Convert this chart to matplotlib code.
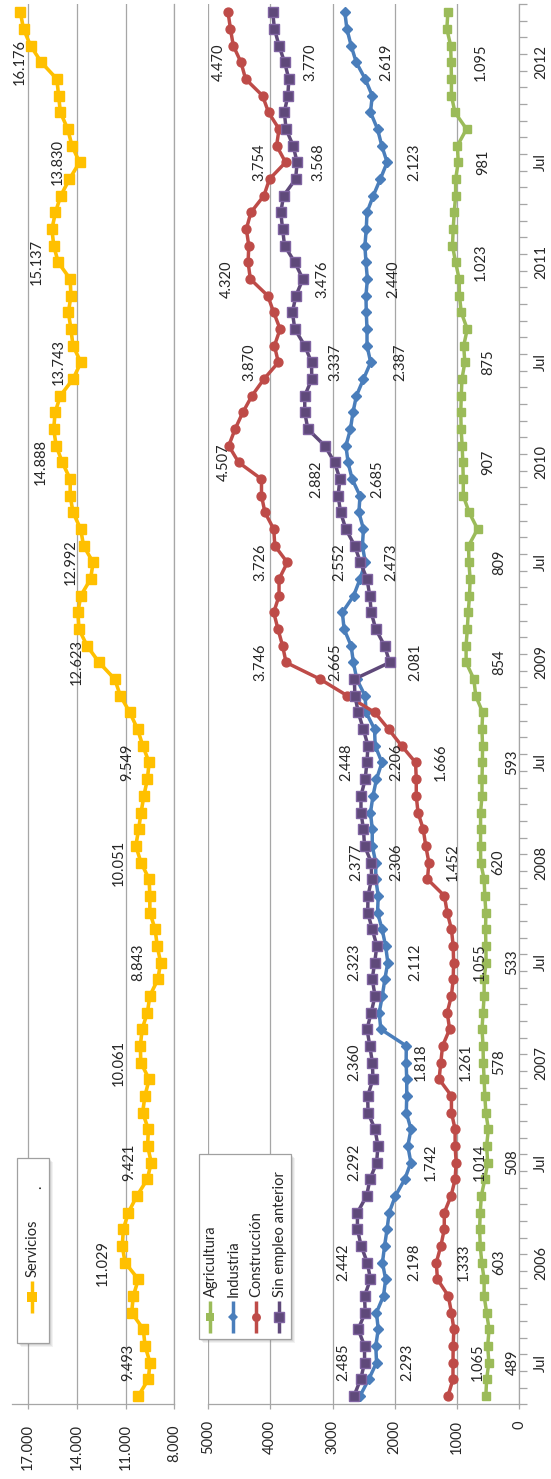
import matplotlib
matplotlib.use("Agg")
import matplotlib.pyplot as plt
from matplotlib.patches import Rectangle
import numpy as np

plt.rcParams['font.family'] = ['Lato', 'DejaVu Sans']

# ---------------- data (monthly, May 2005 .. Apr 2012) ----------------
time_tick_idx = [2, 8, 14, 20, 26, 32, 38, 44, 50, 56, 62, 68, 74, 80]
time_tick_labels = ['Jul', '2006', 'Jul', '2007', 'Jul', '2008', 'Jul',
                    '2009', 'Jul', '2010', 'Jul', '2011', 'Jul', '2012']

servicios = [10212, 9597, 9493, 9800, 9905, 10624, 10520, 10212, 11029, 11196, 11135,
             10827, 10300, 9658, 9421, 9640, 9597, 9947, 9806, 9547, 10061, 10087, 9979, 9655, 9504,
             9008, 8843, 9051, 9180, 9504, 9504, 9547, 10051, 10367, 10194, 10043, 9871, 9655, 9549, 9935,
             10259, 10734, 11317, 11662, 12623, 13367, 13863, 13928, 13755, 13151, 12992, 13583, 13755, 14230, 14402,
             14402, 14888, 15266, 15417, 15330, 15007, 14230, 13743, 14230, 14359, 14510, 14359, 14402, 15137, 15417,
             15525, 15309, 14985, 14446, 13830, 14295, 14554, 15007, 15115, 15223, 16176, 16841, 17273, 17467]

agricultura = [537, 525, 489, 508, 486, 525, 565, 565, 603, 627, 638,
               627, 610, 554, 508, 525, 497, 537, 554, 565, 578, 582, 599, 582, 565,
               565, 533, 537, 542, 537, 554, 565, 620, 622, 622, 622, 599, 599, 593, 590,
               600, 588, 700, 730, 854, 855, 835, 820, 800, 790, 809, 815, 670, 805, 900,
               900, 907, 918, 934, 940, 932, 921, 875, 893, 836, 932, 961, 966, 1023, 1073,
               1062, 1045, 1023, 1023, 981, 994, 848, 1034, 1090, 1090, 1095, 1102, 1164, 1147]

industria = [2559, 2418, 2293, 2305, 2266, 2294, 2181, 2147, 2198, 2164, 2124,
             2090, 1990, 1840, 1742, 1790, 1740, 1815, 1808, 1808, 1818, 1815, 2225, 2250, 2200,
             2160, 2112, 2147, 2204, 2277, 2266, 2305, 2306, 2362, 2362, 2390, 2350, 2294, 2206, 2315,
             2325, 2460, 2478, 2610, 2665, 2701, 2814, 2842, 2661, 2559, 2473, 2520, 2503, 2576, 2559,
             2685, 2750, 2785, 2712, 2672, 2616, 2503, 2387, 2446, 2446, 2458, 2463, 2440, 2463, 2480,
             2458, 2446, 2345, 2232, 2123, 2209, 2277, 2390, 2362, 2475, 2619, 2701, 2769, 2802]

construccion = [1145, 1065, 1065, 1062, 1051, 1090, 1140, 1315, 1333, 1260, 1205,
                1205, 1096, 1031, 1014, 1031, 1031, 1090, 1090, 1288, 1261, 1232, 1119, 1158, 1090,
                1062, 1055, 1062, 1090, 1158, 1203, 1475, 1452, 1503, 1543, 1627, 1655, 1655, 1666, 1890,
                2100, 2320, 2760, 3200, 3746, 3802, 3876, 3944, 3859, 3859, 3726, 3927, 3944, 4085, 4141,
                4141, 4507, 4667, 4565, 4441, 4294, 4102, 3870, 3933, 3842, 3944, 4040, 4320, 4356, 4345,
                4384, 4311, 4102, 4012, 3754, 3898, 3859, 4028, 4124, 4396, 4470, 4594, 4639, 4678]

sin_empleo = [2656, 2548, 2485, 2486, 2588, 2475, 2486, 2390, 2442, 2540, 2600,
              2600, 2453, 2398, 2292, 2270, 2318, 2430, 2435, 2350, 2360, 2401, 2446, 2379, 2317,
              2362, 2323, 2288, 2362, 2435, 2430, 2373, 2377, 2486, 2503, 2543, 2543, 2475, 2448, 2430,
              2505, 2586, 2640, 2650, 2081, 2164, 2305, 2379, 2401, 2446, 2552, 2644, 2785, 2870, 2910,
              2882, 2966, 3124, 3396, 3446, 3446, 3333, 3337, 3446, 3605, 3645, 3588, 3476, 3605, 3770,
              3802, 3831, 3786, 3593, 3568, 3633, 3746, 3774, 3718, 3701, 3770, 3859, 3932, 3961]

# indices of the points that carry a data label
lab_idx_serv = [2, 8, 14, 20, 26, 32, 38, 44, 50, 56, 62, 68, 74, 80]
lab_idx_agri = [2, 8, 14, 20, 26, 32, 38, 44, 50, 56, 62, 68, 74, 80]
lab_idx_ind = [2, 8, 14, 20, 26, 32, 38, 44, 50, 55, 62, 67, 74, 80]
lab_idx_con = [2, 8, 14, 20, 26, 32, 38, 44, 50, 56, 62, 67, 74, 80]
lab_idx_sin = [2, 8, 14, 20, 26, 32, 38, 44, 50, 55, 62, 67, 74, 80]

# ---------------- styling ----------------
# horizontal label offsets (pixels, + = right of the point)
off_serv = [-22] * 14
off_agri = [24, 17, 24, 16, 26, 18, 30, 33, 30, 25, 23, 25, 25, 30]
off_ind = [31, 32, 20, 15, 28, 21, 14, -18, 26, 25, 30, 26, 27, 30]
off_con = [25, 27, 24, 25, 26, 24, 25, -26, -27, -15, -29, -24, -26, -22]
off_sin = [-21, -24, -22, -18, -20, -15, -21, 26, -21, -24, 24, 20, 21, 26]

C_SERV = '#FFC000'
C_AGRI = '#9BBB59'
C_IND = '#4A7EBB'
C_CON = '#BE4B48'
C_SIN = '#5F497A'
C_SIN_E = '#8064A2'
GRID = '#A6A6A6'
TXT = '#262626'
FS = 10.5

W, H, DPI = 551, 1479, 100
fig = plt.figure(figsize=(W / DPI, H / DPI), dpi=DPI)
fig.patch.set_facecolor('white')


def fx(px):
    return px / W


def fy(py):
    return 1 - py / H


Y_TOP, Y_BOT = 4.0, 1404.3
UP_L, UP_R = 11.7, 174.3
LO_L, LO_R = 208.0, 519.3

ax_u = fig.add_axes([fx(UP_L), fy(Y_BOT), fx(UP_R - UP_L), (Y_BOT - Y_TOP) / H])
ax_l = fig.add_axes([fx(LO_L), fy(Y_BOT), fx(LO_R - LO_L), (Y_BOT - Y_TOP) / H])

n = len(servicios)
idx = np.arange(n)


def fmt(v):
    return f"{int(v):,}".replace(',', '.')


def setup_value_axis(ax, lo, hi, ticks, labels, pad):
    ax.set_xlim(hi, lo)
    ax.set_ylim(-0.5, n - 0.5)
    ax.set_xticks(ticks)
    ax.set_xticklabels(labels, rotation=90, fontsize=FS, color=TXT)
    ax.tick_params(axis='x', direction='out', length=3.5, width=0.9, color=GRID, pad=pad)
    ax.grid(axis='x', color=GRID, lw=0.9)
    ax.set_axisbelow(True)
    for s in ['top', 'left']:
        ax.spines[s].set_visible(False)
    for s in ['bottom', 'right']:
        ax.spines[s].set_color(GRID)
        ax.spines[s].set_linewidth(0.9)
    ax.set_facecolor('none')


# upper panel: Servicios
setup_value_axis(ax_u, 8000, 18000, [8000, 11000, 14000, 17000],
                 ['8.000', '11.000', '14.000', '17.000'], pad=11)
ax_u.set_yticks([])
ax_u.plot(servicios, idx, color=C_SERV, lw=2.6, marker='s', ms=7.2,
          mfc=C_SERV, mec=C_SERV, clip_on=False, zorder=3)
for k, dx in zip(lab_idx_serv, off_serv):
    ax_u.annotate(fmt(servicios[k]), xy=(servicios[k], k), xytext=(dx, 0),
                  textcoords='offset pixels', rotation=90, ha='center', va='center',
                  fontsize=FS, color=TXT, annotation_clip=False)

# lower panel
setup_value_axis(ax_l, 0, 5000, [0, 1000, 2000, 3000, 4000, 5000],
                 ['0', '1000', '2000', '3000', '4000', '5000'], pad=8)
ax_l.yaxis.tick_right()
ax_l.set_yticks(time_tick_idx)
ax_l.set_yticklabels(time_tick_labels, rotation=90, fontsize=FS, color=TXT)
for lab in ax_l.get_yticklabels():
    lab.set_va('center')
ax_l.set_yticks(np.arange(-0.5, n, 1.0), minor=True)
ax_l.tick_params(axis='y', which='major', length=0, pad=10.5)
ax_l.tick_params(axis='y', which='minor', direction='out', length=5.5, width=0.9, color=GRID)

ax_l.plot(agricultura, idx, color=C_AGRI, lw=2.5, marker='s', ms=5.8,
          mfc=C_AGRI, mec=C_AGRI, zorder=3)
ax_l.plot(industria, idx, color=C_IND, lw=2.5, marker='D', ms=5.0,
          mfc=C_IND, mec=C_IND, zorder=4)
ax_l.plot(construccion, idx, color=C_CON, lw=2.5, marker='o', ms=6.4,
          mfc=C_CON, mec=C_CON, zorder=5)
ax_l.plot(sin_empleo, idx, color=C_SIN, lw=2.5, marker='s', ms=7.2,
          mfc=C_SIN, mec=C_SIN_E, mew=1.0, zorder=6)

for series, lidx, offs in [(agricultura, lab_idx_agri, off_agri),
                           (industria, lab_idx_ind, off_ind),
                           (construccion, lab_idx_con, off_con),
                           (sin_empleo, lab_idx_sin, off_sin)]:
    for k, dx in zip(lidx, offs):
        ax_l.annotate(fmt(series[k]), xy=(series[k], k), xytext=(dx, 0),
                      textcoords='offset pixels', rotation=90, ha='center', va='center',
                      fontsize=FS, color=TXT, annotation_clip=False, zorder=8)

# ---------------- legends (overlay in pixel coordinates) ----------------
ov = fig.add_axes([0, 0, 1, 1], zorder=10)
ov.set_xlim(0, W)
ov.set_ylim(H, 0)
ov.axis('off')
ov.patch.set_alpha(0)


def legend_box(x0, y0, x1, y1):
    for k, a in [(4, 0.10), (3, 0.12), (2, 0.15)]:
        ov.add_patch(Rectangle((x0 + k, y0 + k), x1 - x0, y1 - y0, facecolor='#808080',
                               edgecolor='none', alpha=a))
    ov.add_patch(Rectangle((x0, y0), x1 - x0, y1 - y0, facecolor='white',
                           edgecolor='#A0A0A0', lw=0.9))


def legend_entry(x, ymark, text, color, marker, ms, mec=None, mew=0.0):
    ov.plot([x, x], [ymark - 16, ymark + 16], color=color, lw=2.5, solid_capstyle='butt')
    ov.plot([x], [ymark], marker=marker, ms=ms, color=color, mfc=color,
            mec=mec if mec else color, mew=mew)
    ov.text(x + 1, ymark - 20, text, rotation=90, ha='center', va='bottom',
            fontsize=FS, color=TXT)


legend_box(17, 1158, 49, 1343)
legend_entry(31.5, 1297, 'Servicios', C_SERV, 's', 7.2)
ov.text(37, 1187, '.', rotation=90, ha='center', va='center', fontsize=FS, color=TXT)

legend_box(199, 1154, 291, 1339)
legend_entry(209.5, 1317, 'Agricultura', C_AGRI, 's', 5.8)
legend_entry(232.5, 1317, 'Industria', C_IND, 'D', 5.0)
legend_entry(255.5, 1317, 'Construcción', C_CON, 'o', 6.4)
legend_entry(279, 1317, 'Sin empleo anterior', C_SIN, 's', 7.2, mec=C_SIN_E, mew=1.0)

fig.savefig('out.png', dpi=DPI, facecolor='white')
